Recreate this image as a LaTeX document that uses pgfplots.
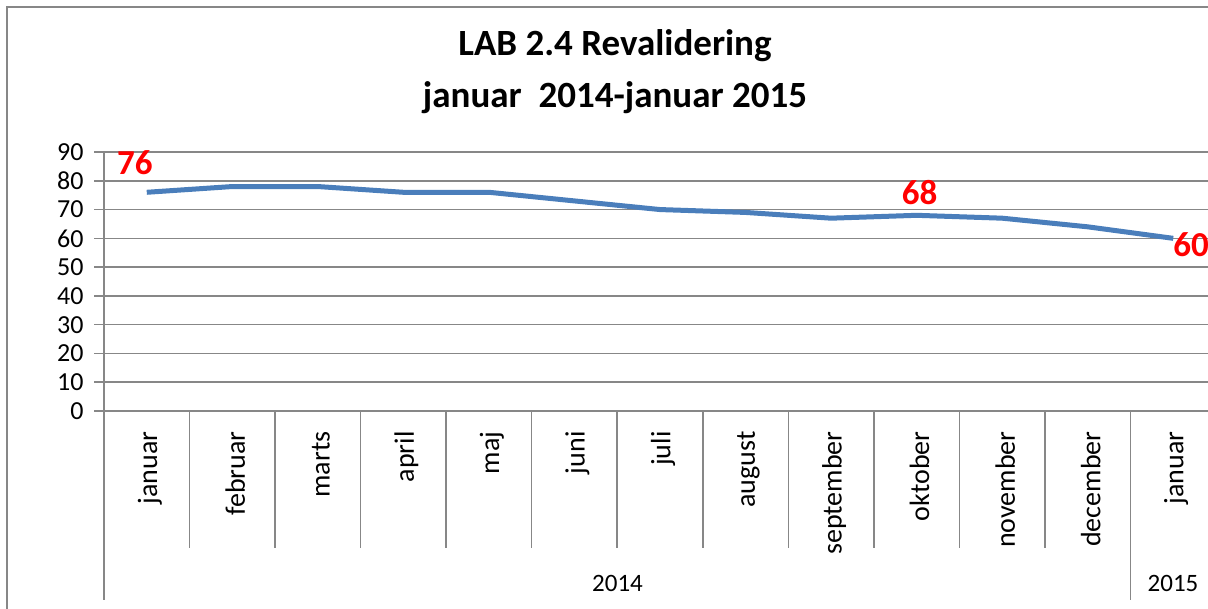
\documentclass[border=0pt]{standalone}
\usepackage{fontspec}
\setmainfont{Carlito}
\usepackage{pgfplots}
\pgfplotsset{compat=1.18}
\definecolor{linec}{HTML}{4A7EBB}
\definecolor{gridc}{HTML}{878787}
\begin{document}
\begin{tikzpicture}[x=1pt,y=1pt]
\useasboundingbox (0,0) rectangle (1208,609);
\clip (0,0) rectangle (1208,609);
\draw[gridc, line width=1.5pt] (7,-20) -- (7,602) -- (1230,602);
\node[font=\fontsize{37}{52}\selectfont\bfseries, align=center] at (615,537) {LAB 2.4 Revalidering\\januar\ \ 2014-januar 2015};
\begin{axis}[
  at={(104pt,198pt)}, anchor=south west,
  scale only axis, width=1112pt, height=259pt,
  xmin=-0.5, xmax=12.5, ymin=0, ymax=90,
  ytick={0,10,...,90},
  xtick={0,...,12},
  xticklabels={januar,februar,marts,april,maj,juni,juli,august,september,oktober,november,december,januar},
  ymajorgrids, grid style={gridc, line width=1.5pt},
  axis x line*=bottom, axis y line*=left,
  axis line style={gridc, line width=1.5pt, -},
  tick align=outside, major tick length=10pt,
  ytick style={gridc, line width=1.5pt},
  xtick style={draw=none},
  /pgf/number format/assume math mode=true,
  yticklabel style={font=\fontsize{26}{26}\selectfont, text=black, xshift=-7pt},
  xticklabel style={rotate=90, anchor=east, font=\fontsize{28}{28}\selectfont, text=black, xshift=-7pt, yshift=-3pt},
  clip=false,
]
\addplot[linec, line width=5pt, no marks, line join=round] coordinates {
  (0,76) (1,78) (2,78) (3,76) (4,76) (5,73) (6,70) (7,69) (8,67) (9,68) (10,67) (11,64) (12,60)
};
\pgfplotsinvokeforeach{0.5,1.5,2.5,3.5,4.5,5.5,6.5,7.5,8.5,9.5,10.5}{
  \draw[gridc, line width=1.5pt] (axis cs:#1,0) -- ++(0pt,-137pt);
}
\pgfplotsinvokeforeach{-0.5,11.5,12.5}{
  \draw[gridc, line width=1.5pt] (axis cs:#1,0) -- ++(0pt,-189pt);
}
\node[text=red, font=\fontsize{35}{35}\selectfont\bfseries] at (axis cs:0,76) [xshift=-12pt, yshift=30pt] {76};
\node[text=red, font=\fontsize{35}{35}\selectfont\bfseries] at (axis cs:9,68) [xshift=3pt, yshift=23pt] {68};
\node[text=red, font=\fontsize{35}{35}\selectfont\bfseries, anchor=west, inner sep=0pt] at (axis cs:12,60) [yshift=-6pt] {60};
\end{axis}
\node[font=\fontsize{25}{25}\selectfont] at (617.5,26) {2014};
\node[font=\fontsize{25}{25}\selectfont] at (1173,26) {2015};
\end{tikzpicture}
\end{document}
